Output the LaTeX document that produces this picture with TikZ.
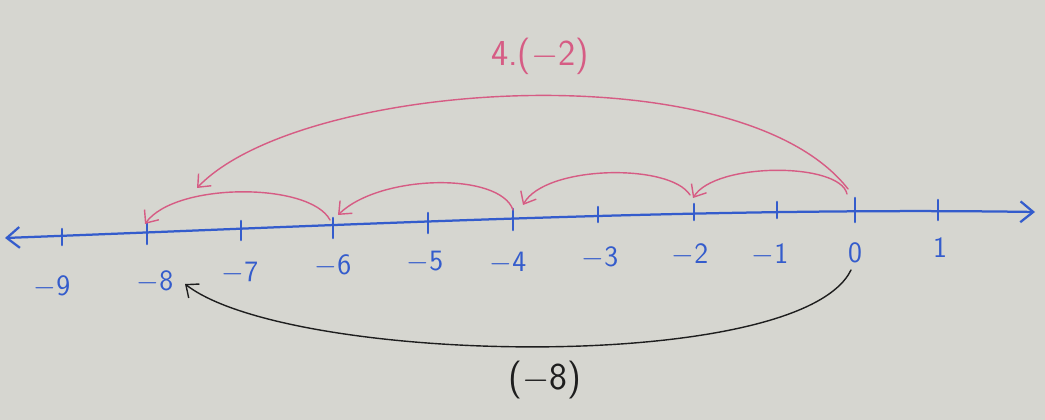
\documentclass[tikz,border=0pt]{standalone}
\usetikzlibrary{arrows.meta}
\definecolor{board}{RGB}{214,214,208}
\definecolor{bluemarker}{RGB}{52,92,204}
\definecolor{pinkmarker}{RGB}{214,92,132}
\definecolor{blackmarker}{RGB}{30,30,30}

\begin{document}
\begin{tikzpicture}[x=0.025cm,y=0.025cm,line cap=round,line join=round,
  barb/.tip={Straight Barb[length=2.6mm,width=4.4mm]},
  bigbarb/.tip={Straight Barb[length=3.2mm,width=5.2mm]},
  tickmark/.style={bluemarker,line width=1.8pt},
  numlbl/.style={bluemarker,font=\sffamily\fontsize{21}{24}\selectfont},
  jump/.style={pinkmarker,line width=1pt,-barb},
  result/.style={blackmarker,line width=1pt,-barb}]
\useasboundingbox (0,0) rectangle (1045,420);
\fill[board] (0,0) rectangle (1045,420);
% number line
\coordinate (L) at (5,182);
\coordinate (R) at (1035,208);
\draw[bluemarker,line width=1.6pt,bigbarb-bigbarb]
  (L) .. controls (350,195) and (700,213) .. (R);
\coordinate (m9) at (62,184);
\coordinate (m8) at (147,188);
\coordinate (m7) at (241,190);
\coordinate (m6) at (333,193);
\coordinate (m5) at (428,198);
\coordinate (m4) at (513,202);
\coordinate (m3) at (598,205);
\coordinate (m2) at (694,208);
\coordinate (m1) at (777,209);
\coordinate (z) at (855,210);
\coordinate (p1) at (938,208);
\draw[tickmark] (m9) ++(0,7) -- ++(0,-16);
\draw[tickmark] (m8) ++(0,9) -- ++(0,-21);
\draw[tickmark] (m7) ++(0,9) -- ++(0,-19);
\draw[tickmark] (m6) ++(0,9) -- ++(0,-20);
\draw[tickmark] (m5) ++(0,9) -- ++(0,-20);
\draw[tickmark] (m4) ++(0,9) -- ++(0,-21);
\draw[tickmark] (m3) ++(0,8) -- ++(0,-15);
\draw[tickmark] (m2) ++(0,8) -- ++(0,-16);
\draw[tickmark] (m1) ++(0,9) -- ++(0,-16);
\draw[tickmark] (z) ++(0,12) -- ++(0,-24);
\draw[tickmark] (p1) ++(0,12) -- ++(0,-20);
\node[numlbl] (lm9) at (52,133) {$-$9};
\node[numlbl] (lm8) at (155,138) {$-$8};
\node[numlbl] (lm7) at (240,147) {$-$7};
\node[numlbl] (lm6) at (333,154) {$-$6};
\node[numlbl] (lm5) at (425,158) {$-$5};
\node[numlbl] (lm4) at (508,157) {$-$4};
\node[numlbl] (lm3) at (600,162) {$-$3};
\node[numlbl] (lm2) at (690,165) {$-$2};
\node[numlbl] (lm1) at (770,165) {$-$1};
\node[numlbl] (lz) at (855,167) {0};
\node[numlbl] (lp1) at (940,172) {1};
% pink jumps of -2
\coordinate (a0) at (847,226);
\coordinate (a2) at (693,222);
\coordinate (b2) at (690,225);
\coordinate (b4) at (523,215);
\coordinate (c4) at (513,210);
\coordinate (c6) at (338,205);
\coordinate (d6) at (330,200);
\coordinate (d8) at (145,196);
\draw[jump] (a0) .. controls (840,258) and (715,258) .. (a2);
\draw[jump] (b2) .. controls (670,257) and (545,255) .. (b4);
\draw[jump] (c4) .. controls (500,248) and (380,246) .. (c6);
\draw[jump] (d6) .. controls (310,238) and (175,238) .. (d8);
\coordinate (e0) at (848,231);
\coordinate (e8) at (197,232);
\draw[jump] (e0) .. controls (740,370) and (300,340) .. (e8);
\node[pinkmarker,font=\sffamily\fontsize{26}{30}\selectfont] (prod) at (540,364) {4.($-$2)};
% black jump
\coordinate (k0) at (851,150);
\coordinate (k8) at (185,136);
\draw[result] (k0) .. controls (800,45) and (290,55) .. (k8);
\node[blackmarker,font=\sffamily\fontsize{27}{30}\selectfont] (res) at (545,40) {($-$8)};
\end{tikzpicture}
\end{document}
